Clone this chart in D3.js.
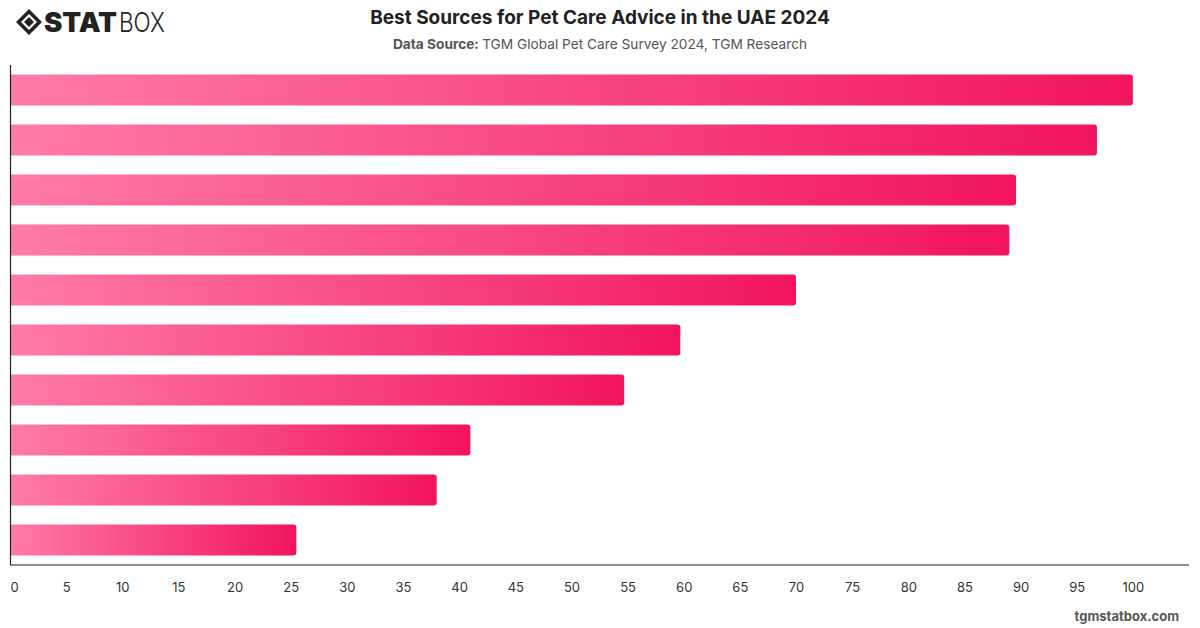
<!DOCTYPE html>
<html lang="en">
<head>
    <meta charset="utf-8">
    <script src="https://d3js.org/d3.v7.min.js"></script>
    <style>
        body { margin: 0; background: #fff; font-family: Inter, "Noto Sans", sans-serif; }
    </style>
</head>
<body>
    <svg id="chart"></svg>
    <script>
        // categories are not printed on the chart, kept only as keys
        const sources = ["Veterinarian", "Online search", "Family and friends", "Pet store staff",
            "Social media", "Pet care websites", "Breeders", "Pet forums", "Books and magazines", "TV and radio"];
        const scores = [100, 96.8, 89.6, 89.0, 70.0, 59.7, 54.7, 41.0, 38.0, 25.5];
        const xTicks = [0, 5, 10, 15, 20, 25, 30, 35, 40, 45, 50, 55, 60, 65, 70, 75, 80, 85, 90, 95, 100];

        const W = 1200, H = 628;
        const margin = { top: 65, right: 11, bottom: 63, left: 10 };

        const svg = d3.select("#chart").attr("width", W).attr("height", H);

        const x = d3.scaleLinear().domain([0, 105]).range([margin.left, W - margin.right]);
        const y = d3.scaleBand().domain(sources).range([margin.top, H - margin.bottom])
            .paddingInner(0.38).paddingOuter(0.19);

        // gradient, light pink on the left to deep pink on the right of each bar
        const grad = svg.append("defs").append("linearGradient")
            .attr("id", "barGrad").attr("x1", "0%").attr("x2", "100%").attr("y1", "0%").attr("y2", "0%");
        grad.append("stop").attr("offset", "0%").attr("stop-color", "#ff7ba7");
        grad.append("stop").attr("offset", "100%").attr("stop-color", "#f2135f");

        const data = sources.map((s, i) => ({ name: s, value: scores[i] }));

        // bars: square on the left, rounded on the right
        const r = 3;
        svg.selectAll(".bar")
            .data(data)
            .enter().append("path")
            .attr("class", "bar")
            .attr("fill", "url(#barGrad)")
            .attr("d", d => {
                const x0 = x(0) + 0.5, x1 = x(d.value), y0 = y(d.name), h = y.bandwidth();
                return `M${x0},${y0}H${x1 - r}Q${x1},${y0} ${x1},${y0 + r}V${y0 + h - r}Q${x1},${y0 + h} ${x1 - r},${y0 + h}H${x0}Z`;
            });

        // axes
        const xAxis = svg.append("g")
            .attr("transform", `translate(0,${H - margin.bottom})`)
            .call(d3.axisBottom(x).tickValues(xTicks).tickSize(0).tickPadding(18));
        xAxis.select(".domain").attr("stroke", "#222").attr("stroke-width", 1.2)
            .attr("d", `M${margin.left},0H${W - margin.right}`);
        xAxis.selectAll("text")
            .attr("fill", "#333")
            .style("font-size", "13px")
            .style("font-family", "Inter, sans-serif");
        // first label kept inside the chart
        xAxis.selectAll(".tick text").filter(d => d === 0).attr("text-anchor", "start");

        svg.append("line")
            .attr("x1", margin.left + 0.5).attr("x2", margin.left + 0.5)
            .attr("y1", margin.top).attr("y2", H - margin.bottom)
            .attr("stroke", "#222").attr("stroke-width", 1.2);

        // title + subtitle
        svg.append("text")
            .attr("x", 600).attr("y", 24)
            .attr("text-anchor", "middle")
            .attr("fill", "#222")
            .style("font-size", "19px").style("font-weight", "700")
            .text("Best Sources for Pet Care Advice in the UAE 2024");

        const sub = svg.append("text")
            .attr("x", 600).attr("y", 49)
            .attr("text-anchor", "middle")
            .attr("fill", "#555")
            .style("font-size", "13.7px");
        sub.append("tspan").style("font-weight", "700").text("Data Source: ");
        sub.append("tspan").text("TGM Global Pet Care Survey 2024, TGM Research");

        // footer
        svg.append("text")
            .attr("x", 1179).attr("y", 621)
            .attr("text-anchor", "end")
            .attr("fill", "#555")
            .style("font-size", "13px").style("font-weight", "700")
            .text("tgmstatbox.com");

        // logo
        const logo = svg.append("g").attr("transform", "translate(16,9)");
        logo.append("path")
            .attr("d", "M13,0 L26,13 L13,26 L0,13 Z M13,5 L5,13 L13,21 L21,13 Z")
            .attr("fill", "#222").attr("fill-rule", "evenodd");
        logo.append("path")
            .attr("d", "M13,8 L18,13 L13,18 L8,13 Z").attr("fill", "#222");
        logo.append("text")
            .attr("x", 28).attr("y", 23)
            .attr("fill", "#222")
            .style("font-size", "27px").style("font-weight", "900")
            .style("font-family", "Inter, sans-serif")
            .attr("textLength", 73).attr("lengthAdjust", "spacingAndGlyphs")
            .text("STAT");
        logo.append("text")
            .attr("x", 103).attr("y", 23)
            .attr("fill", "#222")
            .style("font-size", "27px").style("font-weight", "300")
            .style("font-family", "Inter, sans-serif")
            .attr("textLength", 46).attr("lengthAdjust", "spacingAndGlyphs")
            .text("BOX");
    </script>
</body>
</html>
